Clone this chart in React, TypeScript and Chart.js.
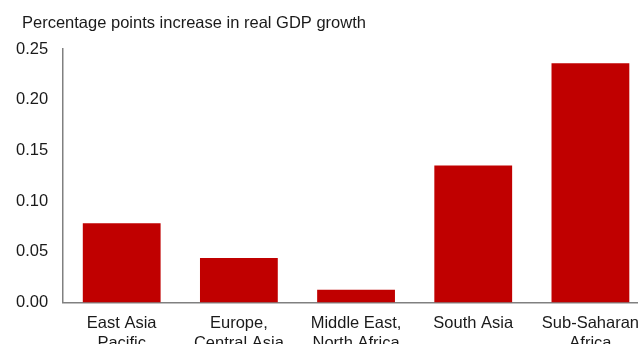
import React, { useEffect, useRef } from "react";
import { Chart, registerables } from "chart.js";

Chart.register(...registerables);

const categories: string[][] = [
  ["East Asia", "Pacific"],
  ["Europe,", "Central Asia"],
  ["Middle East,", "North Africa"],
  ["South Asia"],
  ["Sub-Saharan", "Africa"],
];
const gdpIncrease: number[] = [0.078, 0.0437, 0.0126, 0.135, 0.236];
const yTicks: number[] = [0, 0.05, 0.1, 0.15, 0.2, 0.25];
const subtitle = "Percentage points increase in real GDP growth";

const FONT = "'Liberation Sans', Arial, sans-serif";

const subtitlePlugin = {
  id: "subtitleText",
  afterDraw(chart: any) {
    const ctx = chart.ctx;
    ctx.save();
    ctx.font = `16.5px ${FONT}`;
    ctx.fillStyle = "#1a1a1a";
    ctx.textBaseline = "middle";
    ctx.textAlign = "left";
    ctx.fillText(subtitle, 22, 23);
    ctx.restore();
  },
};

export default function App() {
  const ref = useRef<HTMLCanvasElement>(null);
  useEffect(() => {
    if (!ref.current) return;
    const chart = new Chart(ref.current, {
      type: "bar",
      data: {
        labels: categories,
        datasets: [
          {
            data: gdpIncrease,
            backgroundColor: "#C00000",
            borderWidth: 0,
            categoryPercentage: 1,
            barPercentage: 0.664,
          },
        ],
      },
      options: {
        animation: false,
        responsive: false,
        maintainAspectRatio: false,
        layout: { padding: { left: 1, right: 11, top: 49, bottom: 0 } },
        plugins: {
          legend: { display: false },
          tooltip: { enabled: false },
          title: { display: false },
        },
        scales: {
          x: {
            grid: { display: false, drawTicks: false },
            border: { display: true, color: "#808080", width: 1.5 },
            ticks: {
              color: "#1a1a1a",
              font: { family: FONT, size: 16.5 },
              padding: 11,
              maxRotation: 0,
              autoSkip: false,
            },
          },
          y: {
            min: 0,
            max: 0.25,
            afterBuildTicks: (axis: any) => {
              axis.ticks = yTicks.map((v) => ({ value: v }));
            },
            grid: { display: false, drawTicks: false },
            border: { display: true, color: "#808080", width: 1.5 },
            ticks: {
              color: "#1a1a1a",
              font: { family: FONT, size: 16.5 },
              padding: 15,
              callback: (v: any) => Number(v).toFixed(2),
            },
          },
        },
      },
      plugins: [subtitlePlugin],
    });
    return () => chart.destroy();
  }, []);
  return (
    <div
      style={{
        position: "fixed",
        left: 0,
        top: 0,
        width: 638,
        height: 344,
        overflow: "hidden",
        background: "#fff",
      }}
    >
      <canvas ref={ref} width={660} height={364} style={{ display: "block" }} />
    </div>
  );
}
